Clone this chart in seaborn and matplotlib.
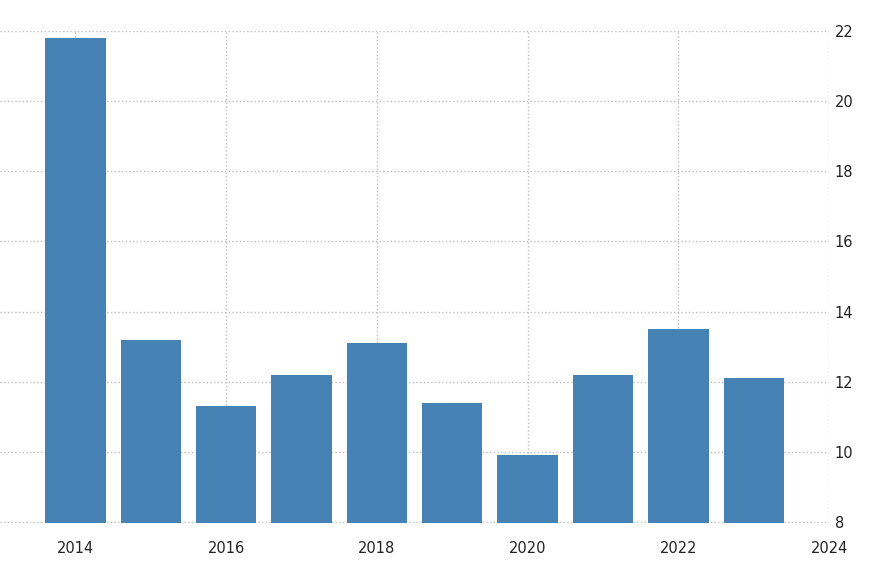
import matplotlib
matplotlib.use("Agg")
import matplotlib.pyplot as plt
import seaborn as sns

# valores
years = [2014, 2015, 2016, 2017, 2018, 2019, 2020, 2021, 2022, 2023]
values = [21.8, 13.2, 11.3, 12.2, 13.1, 11.4, 9.9, 12.2, 13.5, 12.1]
x_ticks = [2014, 2016, 2018, 2020, 2022, 2024]
y_ticks = [8, 10, 12, 14, 16, 18, 20, 22]

sns.set_style("white")
plt.rcParams["font.family"] = ["DejaVu Sans"]

fig = plt.figure(figsize=(8.7, 5.8), dpi=100)
ax = fig.add_axes([0.0, 0.098, 0.953, 0.8486])

sns.barplot(x=years, y=values, native_scale=True, width=0.8,
            color="#4682B4", saturation=1, linewidth=0, ax=ax, zorder=2)

ax.set_xlim(2013.0, 2024.0)
ax.set_ylim(7.97, 22)
ax.set_xticks(x_ticks)
ax.set_xticklabels([str(t) for t in x_ticks])
ax.set_yticks(y_ticks)
ax.yaxis.tick_right()

ax.grid(True, linestyle=":", color="#bdbdbd", linewidth=1, zorder=0)
ax.set_axisbelow(True)
for s in ax.spines.values():
    s.set_visible(False)

ax.tick_params(axis="x", length=5, color="#bdbdbd", labelsize=10.5,
               labelcolor="#222222", pad=8)
ax.tick_params(axis="y", length=0, labelsize=10.5, labelcolor="#222222", pad=4)
ax.set_xlabel("")
ax.set_ylabel("")

fig.savefig("out.png", dpi=100)
